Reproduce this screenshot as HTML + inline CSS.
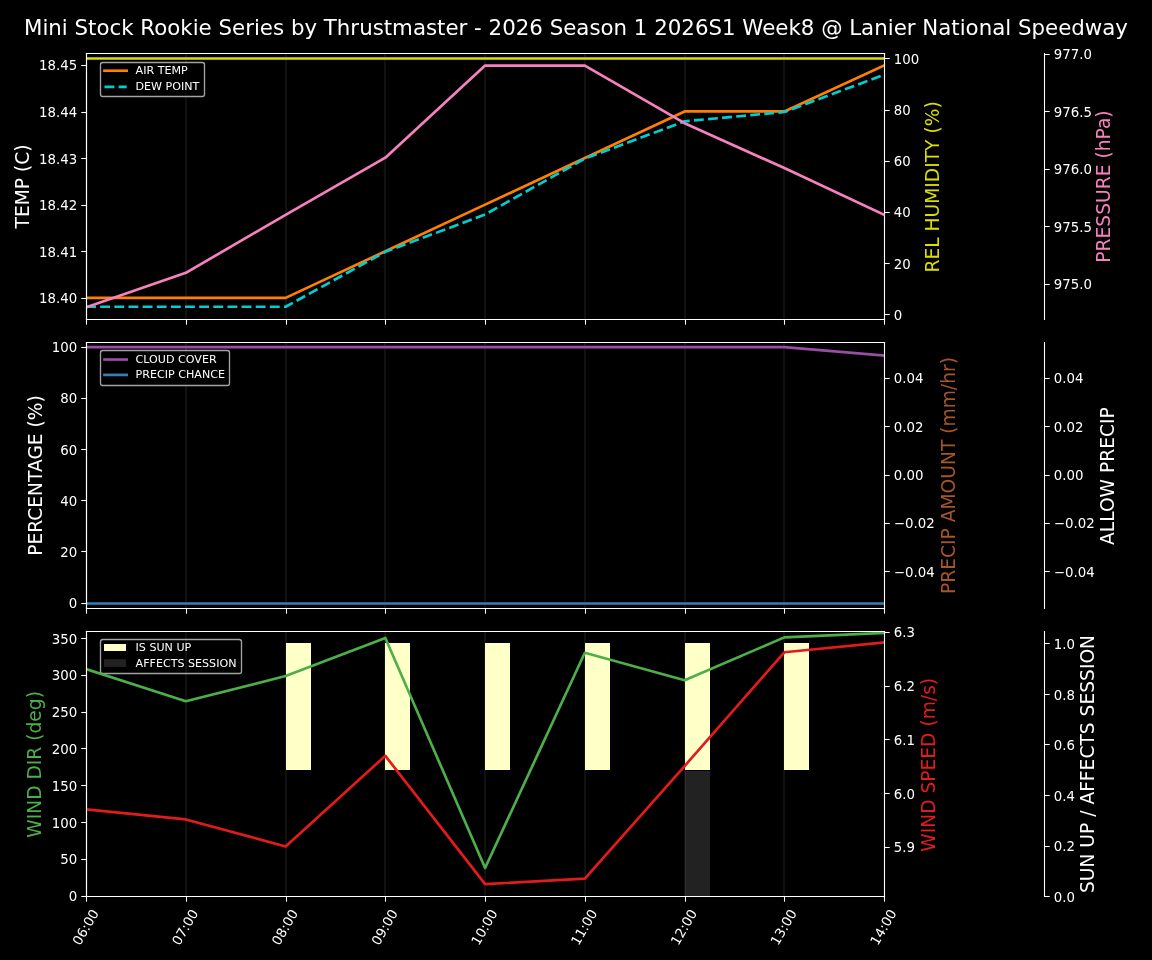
<!DOCTYPE html>
<html><head><meta charset="utf-8"><title>Weather</title>
<style>html,body{margin:0;padding:0;background:#000;width:1152px;height:960px;overflow:hidden}svg{display:block;will-change:transform}</style>
</head><body>
<svg width="1152" height="960" viewBox="0 0 864 720" version="1.1">
 
 <defs>
  <style type="text/css">*{stroke-linejoin: round; stroke-linecap: butt}</style>
 </defs>
 <g id="figure_1">
  <g id="patch_1">
   <path d="M 0 720 
L 864 720 
L 864 0 
L 0 0 
z
"/>
  </g>
  <g id="axes_1">
   <g id="patch_2">
    <path d="M 64.875 239.625 
L 663.375 239.625 
L 663.375 40.125 
L 64.875 40.125 
z
"/>
   </g>
   <g id="line2d_1">
    <path d="M 139.5 239.625 
L 139.5 40.125 
" clip-path="url(#p0e8cb03d9c)" style="fill: none; stroke: #ffffff; stroke-opacity: 0.089; stroke-width: 1.125; stroke-linecap: square"/>
   </g>
   <g id="line2d_2">
    <path d="M 214.5 239.625 
L 214.5 40.125 
" clip-path="url(#p0e8cb03d9c)" style="fill: none; stroke: #ffffff; stroke-opacity: 0.089; stroke-width: 1.125; stroke-linecap: square"/>
   </g>
   <g id="line2d_3">
    <path d="M 288.75 239.625 
L 288.75 40.125 
" clip-path="url(#p0e8cb03d9c)" style="fill: none; stroke: #ffffff; stroke-opacity: 0.089; stroke-width: 1.125; stroke-linecap: square"/>
   </g>
   <g id="line2d_4">
    <path d="M 363.75 239.625 
L 363.75 40.125 
" clip-path="url(#p0e8cb03d9c)" style="fill: none; stroke: #ffffff; stroke-opacity: 0.089; stroke-width: 1.125; stroke-linecap: square"/>
   </g>
   <g id="line2d_5">
    <path d="M 438.75 239.625 
L 438.75 40.125 
" clip-path="url(#p0e8cb03d9c)" style="fill: none; stroke: #ffffff; stroke-opacity: 0.089; stroke-width: 1.125; stroke-linecap: square"/>
   </g>
   <g id="line2d_6">
    <path d="M 513.75 239.625 
L 513.75 40.125 
" clip-path="url(#p0e8cb03d9c)" style="fill: none; stroke: #ffffff; stroke-opacity: 0.089; stroke-width: 1.125; stroke-linecap: square"/>
   </g>
   <g id="line2d_7">
    <path d="M 588 239.625 
L 588 40.125 
" clip-path="url(#p0e8cb03d9c)" style="fill: none; stroke: #ffffff; stroke-opacity: 0.089; stroke-width: 1.125; stroke-linecap: square"/>
   </g>
   <g id="matplotlib.axis_1">
    <g id="xtick_1">
     <g id="line2d_8">
      <defs>
       <path id="m2a5df0ebce" d="M 0 0 
L 0 3.9 
" style="stroke: #ffffff; stroke-width: 0.8"/>
      </defs>
      <g>
       <use href="#m2a5df0ebce" x="64.875" y="239.625" style="fill: #ffffff; stroke: #ffffff; stroke-width: 0.8"/>
      </g>
     </g>
    </g>
    <g id="xtick_2">
     <g id="line2d_9">
      <g>
       <use href="#m2a5df0ebce" x="139.8750" y="239.625" style="fill: #ffffff; stroke: #ffffff; stroke-width: 0.8"/>
      </g>
     </g>
    </g>
    <g id="xtick_3">
     <g id="line2d_10">
      <g>
       <use href="#m2a5df0ebce" x="214.8750" y="239.625" style="fill: #ffffff; stroke: #ffffff; stroke-width: 0.8"/>
      </g>
     </g>
    </g>
    <g id="xtick_4">
     <g id="line2d_11">
      <g>
       <use href="#m2a5df0ebce" x="289.1250" y="239.625" style="fill: #ffffff; stroke: #ffffff; stroke-width: 0.8"/>
      </g>
     </g>
    </g>
    <g id="xtick_5">
     <g id="line2d_12">
      <g>
       <use href="#m2a5df0ebce" x="364.1250" y="239.625" style="fill: #ffffff; stroke: #ffffff; stroke-width: 0.8"/>
      </g>
     </g>
    </g>
    <g id="xtick_6">
     <g id="line2d_13">
      <g>
       <use href="#m2a5df0ebce" x="439.1250" y="239.625" style="fill: #ffffff; stroke: #ffffff; stroke-width: 0.8"/>
      </g>
     </g>
    </g>
    <g id="xtick_7">
     <g id="line2d_14">
      <g>
       <use href="#m2a5df0ebce" x="514.1250" y="239.625" style="fill: #ffffff; stroke: #ffffff; stroke-width: 0.8"/>
      </g>
     </g>
    </g>
    <g id="xtick_8">
     <g id="line2d_15">
      <g>
       <use href="#m2a5df0ebce" x="588.3750" y="239.625" style="fill: #ffffff; stroke: #ffffff; stroke-width: 0.8"/>
      </g>
     </g>
    </g>
    <g id="xtick_9">
     <g id="line2d_16">
      <g>
       <use href="#m2a5df0ebce" x="663.3750" y="239.625" style="fill: #ffffff; stroke: #ffffff; stroke-width: 0.8"/>
      </g>
     </g>
    </g>
   </g>
   <g id="matplotlib.axis_2">
    <g id="ytick_1">
     <g id="line2d_17">
      <defs>
       <path id="md2fccc285f" d="M 0 0 
L -3.9 0 
" style="stroke: #ffffff; stroke-width: 0.8"/>
      </defs>
      <g>
       <use href="#md2fccc285f" x="64.875" y="223.8750" style="fill: #ffffff; stroke: #ffffff; stroke-width: 0.8"/>
      </g>
     </g>
     <g id="text_1">
      <text style="font-size: 10px; font-family: 'DejaVu Sans', sans-serif; text-anchor: end; fill: #ffffff" x="57.875" y="227.600449" transform="rotate(-0 57.875 227.600449)">18.40</text>
     </g>
    </g>
    <g id="ytick_2">
     <g id="line2d_18">
      <g>
       <use href="#md2fccc285f" x="64.875" y="188.6250" style="fill: #ffffff; stroke: #ffffff; stroke-width: 0.8"/>
      </g>
     </g>
     <g id="text_2">
      <text style="font-size: 10px; font-family: 'DejaVu Sans', sans-serif; text-anchor: end; fill: #ffffff" x="57.875" y="192.650449" transform="rotate(-0 57.875 192.650449)">18.41</text>
     </g>
    </g>
    <g id="ytick_3">
     <g id="line2d_19">
      <g>
       <use href="#md2fccc285f" x="64.875" y="154.1250" style="fill: #ffffff; stroke: #ffffff; stroke-width: 0.8"/>
      </g>
     </g>
     <g id="text_3">
      <text style="font-size: 10px; font-family: 'DejaVu Sans', sans-serif; text-anchor: end; fill: #ffffff" x="57.875" y="157.700449" transform="rotate(-0 57.875 157.700449)">18.42</text>
     </g>
    </g>
    <g id="ytick_4">
     <g id="line2d_20">
      <g>
       <use href="#md2fccc285f" x="64.875" y="118.8750" style="fill: #ffffff; stroke: #ffffff; stroke-width: 0.8"/>
      </g>
     </g>
     <g id="text_4">
      <text style="font-size: 10px; font-family: 'DejaVu Sans', sans-serif; text-anchor: end; fill: #ffffff" x="57.875" y="122.750449" transform="rotate(-0 57.875 122.750449)">18.43</text>
     </g>
    </g>
    <g id="ytick_5">
     <g id="line2d_21">
      <g>
       <use href="#md2fccc285f" x="64.875" y="84.3750" style="fill: #ffffff; stroke: #ffffff; stroke-width: 0.8"/>
      </g>
     </g>
     <g id="text_5">
      <text style="font-size: 10px; font-family: 'DejaVu Sans', sans-serif; text-anchor: end; fill: #ffffff" x="57.875" y="87.800449" transform="rotate(-0 57.875 87.800449)">18.44</text>
     </g>
    </g>
    <g id="ytick_6">
     <g id="line2d_22">
      <g>
       <use href="#md2fccc285f" x="64.875" y="49.1250" style="fill: #ffffff; stroke: #ffffff; stroke-width: 0.8"/>
      </g>
     </g>
     <g id="text_6">
      <text style="font-size: 10px; font-family: 'DejaVu Sans', sans-serif; text-anchor: end; fill: #ffffff" x="57.875" y="52.850449" transform="rotate(-0 57.875 52.850449)">18.45</text>
     </g>
    </g>
    <g id="yl_temp" transform="translate(-0.750 0.000)">
     <text style="font-size: 14px; font-family: 'DejaVu Sans', sans-serif; text-anchor: middle; fill: #ffffff" x="22.335313" y="139.875" transform="rotate(-90 22.335313 139.875)">TEMP (C)</text>
    </g>
   </g>
   <g id="line2d_23">
    <path d="M 64.575 223.38183 
L 139.3875 223.38183 
L 214.2 223.38183 
L 289.0125 188.43183 
L 363.825 153.48183 
L 438.6375 118.53183 
L 513.45 83.58183 
L 588.2625 83.58183 
L 663.075 49.05123 
" clip-path="url(#p0e8cb03d9c)" style="fill: none; stroke: #ff7f00; stroke-width: 2; stroke-linecap: square"/>
   </g>
   <g id="line2d_24">
    <path d="M 64.575 230.09223 
L 139.3875 230.09223 
L 214.2 230.09223 
L 289.0125 188.85123 
L 363.825 160.89123 
L 438.6375 118.95123 
L 513.45 90.99123 
L 588.2625 84.00123 
L 663.075 56.04123 
" clip-path="url(#p0e8cb03d9c)" style="fill: none; stroke-dasharray: 7.4,3.2; stroke-dashoffset: 0; stroke: #00ced1; stroke-width: 2"/>
   </g>
   <g id="patch_3">
    <path d="M 64.875 239.625 
L 64.875 40.125 
" style="fill: none; stroke: #ffffff; stroke-width: 0.8; stroke-linejoin: miter; stroke-linecap: square"/>
   </g>
   <g id="patch_4">
    <path d="M 663.375 239.625 
L 663.375 40.125 
" style="fill: none; stroke: #ffffff; stroke-width: 0.8; stroke-linejoin: miter; stroke-linecap: square"/>
   </g>
   <g id="patch_5">
    <path d="M 64.875 239.625 
L 663.375 239.625 
" style="fill: none; stroke: #ffffff; stroke-width: 0.8; stroke-linejoin: miter; stroke-linecap: square"/>
   </g>
   <g id="patch_6">
    <path d="M 64.875 40.125 
L 663.375 40.125 
" style="fill: none; stroke: #ffffff; stroke-width: 0.8; stroke-linejoin: miter; stroke-linecap: square"/>
   </g>
   <g id="legend_1">
    <g id="lframe1">
     <path d="M 77.040 46.875 L 151.710 46.875 Q 153.375 46.875 153.375 48.540 L 153.375 70.710 Q 153.375 72.375 151.710 72.375 L 77.040 72.375 Q 75.375 72.375 75.375 70.710 L 75.375 48.540 Q 75.375 46.875 77.040 46.875 z" style="opacity: 0.8; stroke: #cccccc; stroke-linejoin: miter"/>
    </g>
    <g id="lhand1_0" transform="translate(0 0.000)">
     <path d="M 78.357 53.030998 
L 86.687 53.030998 
L 95.017 53.030998 
" style="fill: none; stroke: #ff7f00; stroke-width: 2; stroke-linecap: square"/>
    </g>
    <g id="ltext1_0" transform="translate(0 -0.712)">
     <text style="font-size: 8.33px; font-family: 'DejaVu Sans', sans-serif; text-anchor: start; fill: #ffffff" x="101.681" y="55.946498" transform="rotate(-0 101.681 55.946498)">AIR TEMP</text>
    </g>
    <g id="lhand1_1" transform="translate(0 -0.075)">
     <path d="M 78.357 65.257877 
L 86.687 65.257877 
L 95.017 65.257877 
" style="fill: none; stroke-dasharray: 7.4,3.2; stroke-dashoffset: 0; stroke: #00ced1; stroke-width: 2"/>
    </g>
    <g id="ltext1_1" transform="translate(0 -0.675)">
     <text style="font-size: 8.33px; font-family: 'DejaVu Sans', sans-serif; text-anchor: start; fill: #ffffff" x="101.681" y="68.173377" transform="rotate(-0 101.681 68.173377)">DEW POINT</text>
    </g>
   </g>
  </g>
  <g id="axes_2">
   <g id="matplotlib.axis_3">
    <g id="ytick_7">
     <g id="line2d_25">
      <defs>
       <path id="m85a99a6e5a" d="M 0 0 
L 3.9 0 
" style="stroke: #ffffff; stroke-width: 0.8"/>
      </defs>
      <g>
       <use href="#m85a99a6e5a" x="663.375" y="235.8750" style="fill: #ffffff; stroke: #ffffff; stroke-width: 0.8"/>
      </g>
     </g>
     <g id="text_7">
      <text style="font-size: 10px; font-family: 'DejaVu Sans', sans-serif; text-anchor: start; fill: #ffffff" x="670.375" y="239.800608" transform="rotate(-0 670.375 239.800608)">0</text>
     </g>
    </g>
    <g id="ytick_8">
     <g id="line2d_26">
      <g>
       <use href="#m85a99a6e5a" x="663.375" y="197.6250" style="fill: #ffffff; stroke: #ffffff; stroke-width: 0.8"/>
      </g>
     </g>
     <g id="text_8">
      <text style="font-size: 10px; font-family: 'DejaVu Sans', sans-serif; text-anchor: start; fill: #ffffff" x="670.375" y="201.435224" transform="rotate(-0 670.375 201.435224)">20</text>
     </g>
    </g>
    <g id="ytick_9">
     <g id="line2d_27">
      <g>
       <use href="#m85a99a6e5a" x="663.375" y="159.3750" style="fill: #ffffff; stroke: #ffffff; stroke-width: 0.8"/>
      </g>
     </g>
     <g id="text_9">
      <text style="font-size: 10px; font-family: 'DejaVu Sans', sans-serif; text-anchor: start; fill: #ffffff" x="670.375" y="163.069839" transform="rotate(-0 670.375 163.069839)">40</text>
     </g>
    </g>
    <g id="ytick_10">
     <g id="line2d_28">
      <g>
       <use href="#m85a99a6e5a" x="663.375" y="121.1250" style="fill: #ffffff; stroke: #ffffff; stroke-width: 0.8"/>
      </g>
     </g>
     <g id="text_10">
      <text style="font-size: 10px; font-family: 'DejaVu Sans', sans-serif; text-anchor: start; fill: #ffffff" x="670.375" y="124.704454" transform="rotate(-0 670.375 124.704454)">60</text>
     </g>
    </g>
    <g id="ytick_11">
     <g id="line2d_29">
      <g>
       <use href="#m85a99a6e5a" x="663.375" y="82.8750" style="fill: #ffffff; stroke: #ffffff; stroke-width: 0.8"/>
      </g>
     </g>
     <g id="text_11">
      <text style="font-size: 10px; font-family: 'DejaVu Sans', sans-serif; text-anchor: start; fill: #ffffff" x="670.375" y="86.33907" transform="rotate(-0 670.375 86.33907)">80</text>
     </g>
    </g>
    <g id="ytick_12">
     <g id="line2d_30">
      <g>
       <use href="#m85a99a6e5a" x="663.375" y="43.8750" style="fill: #ffffff; stroke: #ffffff; stroke-width: 0.8"/>
      </g>
     </g>
     <g id="text_12">
      <text style="font-size: 10px; font-family: 'DejaVu Sans', sans-serif; text-anchor: start; fill: #ffffff" x="670.375" y="47.973685" transform="rotate(-0 670.375 47.973685)">100</text>
     </g>
    </g>
    <g id="yl_hum" transform="translate(0.000 0.300)">
     <text style="font-size: 14px; font-family: 'DejaVu Sans', sans-serif; text-anchor: middle; fill: #dddd00" x="704.100312" y="139.875" transform="rotate(-90 704.100312 139.875)">REL HUMIDITY (%)</text>
    </g>
   </g>
   <g id="line2d_31">
    <path d="M 64.575 43.875216 
L 139.3875 43.875216 
L 214.2 43.875216 
L 289.0125 43.875216 
L 363.825 43.875216 
L 438.6375 43.875216 
L 513.45 43.875216 
L 588.2625 43.875216 
L 663.075 43.875216 
" clip-path="url(#p9b75be4fc3)" style="fill: none; stroke: #dddd00; stroke-width: 2; stroke-linecap: square"/>
   </g>
   <g id="patch_7">
    <path d="M 64.875 239.625 
L 64.875 40.125 
" style="fill: none; stroke: #ffffff; stroke-width: 0.8; stroke-linejoin: miter; stroke-linecap: square"/>
   </g>
   <g id="patch_8">
    <path d="M 663.375 239.625 
L 663.375 40.125 
" style="fill: none; stroke: #ffffff; stroke-width: 0.8; stroke-linejoin: miter; stroke-linecap: square"/>
   </g>
   <g id="patch_9">
    <path d="M 64.875 239.625 
L 663.375 239.625 
" style="fill: none; stroke: #ffffff; stroke-width: 0.8; stroke-linejoin: miter; stroke-linecap: square"/>
   </g>
   <g id="patch_10">
    <path d="M 64.875 40.125 
L 663.375 40.125 
" style="fill: none; stroke: #ffffff; stroke-width: 0.8; stroke-linejoin: miter; stroke-linecap: square"/>
   </g>
  </g>
  <g id="axes_3">
   <g id="matplotlib.axis_4">
    <g id="ytick_13">
     <g id="line2d_32">
      <g>
       <use href="#m85a99a6e5a" x="783.375" y="213.3750" style="fill: #ffffff; stroke: #ffffff; stroke-width: 0.8"/>
      </g>
     </g>
     <g id="text_13">
      <text style="font-size: 10px; font-family: 'DejaVu Sans', sans-serif; text-anchor: start; fill: #ffffff" x="790.375" y="217.08331" transform="rotate(-0 790.375 217.08331)">975.0</text>
     </g>
    </g>
    <g id="ytick_14">
     <g id="line2d_33">
      <g>
       <use href="#m85a99a6e5a" x="783.375" y="169.8750" style="fill: #ffffff; stroke: #ffffff; stroke-width: 0.8"/>
      </g>
     </g>
     <g id="text_14">
      <text style="font-size: 10px; font-family: 'DejaVu Sans', sans-serif; text-anchor: start; fill: #ffffff" x="790.375" y="173.901491" transform="rotate(-0 790.375 173.901491)">975.5</text>
     </g>
    </g>
    <g id="ytick_15">
     <g id="line2d_34">
      <g>
       <use href="#m85a99a6e5a" x="783.375" y="127.1250" style="fill: #ffffff; stroke: #ffffff; stroke-width: 0.8"/>
      </g>
     </g>
     <g id="text_15">
      <text style="font-size: 10px; font-family: 'DejaVu Sans', sans-serif; text-anchor: start; fill: #ffffff" x="790.375" y="130.719673" transform="rotate(-0 790.375 130.719673)">976.0</text>
     </g>
    </g>
    <g id="ytick_16">
     <g id="line2d_35">
      <g>
       <use href="#m85a99a6e5a" x="783.375" y="83.6250" style="fill: #ffffff; stroke: #ffffff; stroke-width: 0.8"/>
      </g>
     </g>
     <g id="text_16">
      <text style="font-size: 10px; font-family: 'DejaVu Sans', sans-serif; text-anchor: start; fill: #ffffff" x="790.375" y="87.537855" transform="rotate(-0 790.375 87.537855)">976.5</text>
     </g>
    </g>
    <g id="ytick_17">
     <g id="line2d_36">
      <g>
       <use href="#m85a99a6e5a" x="783.375" y="40.8750" style="fill: #ffffff; stroke: #ffffff; stroke-width: 0.8"/>
      </g>
     </g>
     <g id="text_17">
      <text style="font-size: 10px; font-family: 'DejaVu Sans', sans-serif; text-anchor: start; fill: #ffffff" x="790.375" y="44.356037" transform="rotate(-0 790.375 44.356037)">977.0</text>
     </g>
    </g>
    <g id="yl_pres" transform="translate(-0.825 0.000)">
     <text style="font-size: 14px; font-family: 'DejaVu Sans', sans-serif; text-anchor: middle; fill: #f781bf" x="833.640937" y="139.875" transform="rotate(-90 833.640937 139.875)">PRESSURE (hPa)</text>
    </g>
   </g>
   <g id="line2d_37">
    <path d="M 64.575 230.556818 
L 139.3875 204.647727 
L 214.2 161.120455 
L 289.0125 118.284091 
L 363.825 49.193182 
L 438.6375 49.193182 
L 513.45 92.375 
L 588.2625 126.056818 
L 663.075 161.034091 
" clip-path="url(#p9b75be4fc3)" style="fill: none; stroke: #f781bf; stroke-width: 2; stroke-linecap: square"/>
   </g>
   <g id="patch_11">
    <path d="M 64.875 239.625 
L 64.875 40.125 
" style="fill: none; stroke: #ffffff; stroke-width: 0.8; stroke-linejoin: miter; stroke-linecap: square"/>
   </g>
   <g id="patch_12">
    <path d="M 783.375 239.625 
L 783.375 40.125 
" style="fill: none; stroke: #ffffff; stroke-width: 0.8; stroke-linejoin: miter; stroke-linecap: square"/>
   </g>
   <g id="patch_13">
    <path d="M 64.875 239.625 
L 663.375 239.625 
" style="fill: none; stroke: #ffffff; stroke-width: 0.8; stroke-linejoin: miter; stroke-linecap: square"/>
   </g>
   <g id="patch_14">
    <path d="M 64.875 40.125 
L 663.375 40.125 
" style="fill: none; stroke: #ffffff; stroke-width: 0.8; stroke-linejoin: miter; stroke-linecap: square"/>
   </g>
  </g>
  <g id="axes_4">
   <g id="patch_15">
    <path d="M 64.875 456.375 
L 663.375 456.375 
L 663.375 256.875 
L 64.875 256.875 
z
"/>
   </g>
   <g id="line2d_38">
    <path d="M 139.5 456.375 
L 139.5 256.875 
" clip-path="url(#p6744f68120)" style="fill: none; stroke: #ffffff; stroke-opacity: 0.089; stroke-width: 1.125; stroke-linecap: square"/>
   </g>
   <g id="line2d_39">
    <path d="M 214.5 456.375 
L 214.5 256.875 
" clip-path="url(#p6744f68120)" style="fill: none; stroke: #ffffff; stroke-opacity: 0.089; stroke-width: 1.125; stroke-linecap: square"/>
   </g>
   <g id="line2d_40">
    <path d="M 288.75 456.375 
L 288.75 256.875 
" clip-path="url(#p6744f68120)" style="fill: none; stroke: #ffffff; stroke-opacity: 0.089; stroke-width: 1.125; stroke-linecap: square"/>
   </g>
   <g id="line2d_41">
    <path d="M 363.75 456.375 
L 363.75 256.875 
" clip-path="url(#p6744f68120)" style="fill: none; stroke: #ffffff; stroke-opacity: 0.089; stroke-width: 1.125; stroke-linecap: square"/>
   </g>
   <g id="line2d_42">
    <path d="M 438.75 456.375 
L 438.75 256.875 
" clip-path="url(#p6744f68120)" style="fill: none; stroke: #ffffff; stroke-opacity: 0.089; stroke-width: 1.125; stroke-linecap: square"/>
   </g>
   <g id="line2d_43">
    <path d="M 513.75 456.375 
L 513.75 256.875 
" clip-path="url(#p6744f68120)" style="fill: none; stroke: #ffffff; stroke-opacity: 0.089; stroke-width: 1.125; stroke-linecap: square"/>
   </g>
   <g id="line2d_44">
    <path d="M 588 456.375 
L 588 256.875 
" clip-path="url(#p6744f68120)" style="fill: none; stroke: #ffffff; stroke-opacity: 0.089; stroke-width: 1.125; stroke-linecap: square"/>
   </g>
   <g id="matplotlib.axis_5">
    <g id="xtick_10">
     <g id="line2d_45">
      <g>
       <use href="#m2a5df0ebce" x="64.875" y="456.375" style="fill: #ffffff; stroke: #ffffff; stroke-width: 0.8"/>
      </g>
     </g>
    </g>
    <g id="xtick_11">
     <g id="line2d_46">
      <g>
       <use href="#m2a5df0ebce" x="139.8750" y="456.375" style="fill: #ffffff; stroke: #ffffff; stroke-width: 0.8"/>
      </g>
     </g>
    </g>
    <g id="xtick_12">
     <g id="line2d_47">
      <g>
       <use href="#m2a5df0ebce" x="214.8750" y="456.375" style="fill: #ffffff; stroke: #ffffff; stroke-width: 0.8"/>
      </g>
     </g>
    </g>
    <g id="xtick_13">
     <g id="line2d_48">
      <g>
       <use href="#m2a5df0ebce" x="289.1250" y="456.375" style="fill: #ffffff; stroke: #ffffff; stroke-width: 0.8"/>
      </g>
     </g>
    </g>
    <g id="xtick_14">
     <g id="line2d_49">
      <g>
       <use href="#m2a5df0ebce" x="364.1250" y="456.375" style="fill: #ffffff; stroke: #ffffff; stroke-width: 0.8"/>
      </g>
     </g>
    </g>
    <g id="xtick_15">
     <g id="line2d_50">
      <g>
       <use href="#m2a5df0ebce" x="439.1250" y="456.375" style="fill: #ffffff; stroke: #ffffff; stroke-width: 0.8"/>
      </g>
     </g>
    </g>
    <g id="xtick_16">
     <g id="line2d_51">
      <g>
       <use href="#m2a5df0ebce" x="514.1250" y="456.375" style="fill: #ffffff; stroke: #ffffff; stroke-width: 0.8"/>
      </g>
     </g>
    </g>
    <g id="xtick_17">
     <g id="line2d_52">
      <g>
       <use href="#m2a5df0ebce" x="588.3750" y="456.375" style="fill: #ffffff; stroke: #ffffff; stroke-width: 0.8"/>
      </g>
     </g>
    </g>
    <g id="xtick_18">
     <g id="line2d_53">
      <g>
       <use href="#m2a5df0ebce" x="663.3750" y="456.375" style="fill: #ffffff; stroke: #ffffff; stroke-width: 0.8"/>
      </g>
     </g>
    </g>
   </g>
   <g id="matplotlib.axis_6">
    <g id="ytick_18">
     <g id="line2d_54">
      <g>
       <use href="#md2fccc285f" x="64.875" y="452.6250" style="fill: #ffffff; stroke: #ffffff; stroke-width: 0.8"/>
      </g>
     </g>
     <g id="text_18">
      <text style="font-size: 10px; font-family: 'DejaVu Sans', sans-serif; text-anchor: end; fill: #ffffff" x="57.875" y="456.124929" transform="rotate(-0 57.875 456.124929)">0</text>
     </g>
    </g>
    <g id="ytick_19">
     <g id="line2d_55">
      <g>
       <use href="#md2fccc285f" x="64.875" y="413.6250" style="fill: #ffffff; stroke: #ffffff; stroke-width: 0.8"/>
      </g>
     </g>
     <g id="text_19">
      <text style="font-size: 10px; font-family: 'DejaVu Sans', sans-serif; text-anchor: end; fill: #ffffff" x="57.875" y="417.724837" transform="rotate(-0 57.875 417.724837)">20</text>
     </g>
    </g>
    <g id="ytick_20">
     <g id="line2d_56">
      <g>
       <use href="#md2fccc285f" x="64.875" y="375.3750" style="fill: #ffffff; stroke: #ffffff; stroke-width: 0.8"/>
      </g>
     </g>
     <g id="text_20">
      <text style="font-size: 10px; font-family: 'DejaVu Sans', sans-serif; text-anchor: end; fill: #ffffff" x="57.875" y="379.324744" transform="rotate(-0 57.875 379.324744)">40</text>
     </g>
    </g>
    <g id="ytick_21">
     <g id="line2d_57">
      <g>
       <use href="#md2fccc285f" x="64.875" y="337.1250" style="fill: #ffffff; stroke: #ffffff; stroke-width: 0.8"/>
      </g>
     </g>
     <g id="text_21">
      <text style="font-size: 10px; font-family: 'DejaVu Sans', sans-serif; text-anchor: end; fill: #ffffff" x="57.875" y="340.924652" transform="rotate(-0 57.875 340.924652)">60</text>
     </g>
    </g>
    <g id="ytick_22">
     <g id="line2d_58">
      <g>
       <use href="#md2fccc285f" x="64.875" y="298.8750" style="fill: #ffffff; stroke: #ffffff; stroke-width: 0.8"/>
      </g>
     </g>
     <g id="text_22">
      <text style="font-size: 10px; font-family: 'DejaVu Sans', sans-serif; text-anchor: end; fill: #ffffff" x="57.875" y="302.524559" transform="rotate(-0 57.875 302.524559)">80</text>
     </g>
    </g>
    <g id="ytick_23">
     <g id="line2d_59">
      <g>
       <use href="#md2fccc285f" x="64.875" y="260.6250" style="fill: #ffffff; stroke: #ffffff; stroke-width: 0.8"/>
      </g>
     </g>
     <g id="text_23">
      <text style="font-size: 10px; font-family: 'DejaVu Sans', sans-serif; text-anchor: end; fill: #ffffff" x="57.875" y="264.124467" transform="rotate(-0 57.875 264.124467)">100</text>
     </g>
    </g>
    <g id="yl_perc" transform="translate(-0.712 0.000)">
     <text style="font-size: 14px; font-family: 'DejaVu Sans', sans-serif; text-anchor: middle; fill: #ffffff" x="31.875937" y="356.625" transform="rotate(-90 31.875937 356.625)">PERCENTAGE (%)</text>
    </g>
   </g>
   <g id="line2d_60">
    <path d="M 64.575 260.325248 
L 139.3875 260.325248 
L 214.2 260.325248 
L 289.0125 260.325248 
L 363.825 260.325248 
L 438.6375 260.325248 
L 513.45 260.325248 
L 588.2625 260.325248 
L 663.075 266.661264 
" clip-path="url(#p6744f68120)" style="fill: none; stroke: #984ea3; stroke-width: 2; stroke-linecap: square"/>
   </g>
   <g id="line2d_61">
    <path d="M 64.575 452.625231 
L 139.3875 452.625231 
L 214.2 452.625231 
L 289.0125 452.625231 
L 363.825 452.625231 
L 438.6375 452.625231 
L 513.45 452.625231 
L 588.2625 452.625231 
L 663.075 452.625231 
" clip-path="url(#p6744f68120)" style="fill: none; stroke: #377eb8; stroke-width: 2; stroke-linecap: square"/>
   </g>
   <g id="patch_16">
    <path d="M 64.875 456.375 
L 64.875 256.875 
" style="fill: none; stroke: #ffffff; stroke-width: 0.8; stroke-linejoin: miter; stroke-linecap: square"/>
   </g>
   <g id="patch_17">
    <path d="M 663.375 456.375 
L 663.375 256.875 
" style="fill: none; stroke: #ffffff; stroke-width: 0.8; stroke-linejoin: miter; stroke-linecap: square"/>
   </g>
   <g id="patch_18">
    <path d="M 64.875 456.375 
L 663.375 456.375 
" style="fill: none; stroke: #ffffff; stroke-width: 0.8; stroke-linejoin: miter; stroke-linecap: square"/>
   </g>
   <g id="patch_19">
    <path d="M 64.875 256.875 
L 663.375 256.875 
" style="fill: none; stroke: #ffffff; stroke-width: 0.8; stroke-linejoin: miter; stroke-linecap: square"/>
   </g>
   <g id="legend_2">
    <g id="lframe2">
     <path d="M 77.040 262.875 L 170.460 262.875 Q 172.125 262.875 172.125 264.540 L 172.125 287.460 Q 172.125 289.125 170.460 289.125 L 77.040 289.125 Q 75.375 289.125 75.375 287.460 L 75.375 264.540 Q 75.375 262.875 77.040 262.875 z" style="opacity: 0.8; stroke: #cccccc; stroke-linejoin: miter"/>
    </g>
    <g id="lhand2_0" transform="translate(0 -0.150)">
     <path d="M 78.357 269.780998 
L 86.687 269.780998 
L 95.017 269.780998 
" style="fill: none; stroke: #984ea3; stroke-width: 2; stroke-linecap: square"/>
    </g>
    <g id="ltext2_0" transform="translate(0 -0.675)">
     <text style="font-size: 8.33px; font-family: 'DejaVu Sans', sans-serif; text-anchor: start; fill: #ffffff" x="101.681" y="272.696498" transform="rotate(-0 101.681 272.696498)">CLOUD COVER</text>
    </g>
    <g id="lhand2_1" transform="translate(0 -0.825)">
     <path d="M 78.357 282.007877 
L 86.687 282.007877 
L 95.017 282.007877 
" style="fill: none; stroke: #377eb8; stroke-width: 2; stroke-linecap: square"/>
    </g>
    <g id="ltext2_1" transform="translate(0 -1.350)">
     <text style="font-size: 8.33px; font-family: 'DejaVu Sans', sans-serif; text-anchor: start; fill: #ffffff" x="101.681" y="284.923377" transform="rotate(-0 101.681 284.923377)">PRECIP CHANCE</text>
    </g>
   </g>
  </g>
  <g id="axes_5">
   <g id="matplotlib.axis_7">
    <g id="ytick_24">
     <g id="line2d_62">
      <g>
       <use href="#m85a99a6e5a" x="663.375" y="428.6250" style="fill: #ffffff; stroke: #ffffff; stroke-width: 0.8"/>
      </g>
     </g>
     <g id="text_24">
      <text style="font-size: 10px; font-family: 'DejaVu Sans', sans-serif; text-anchor: start; fill: #ffffff" x="670.375" y="432.632337" transform="rotate(-0 670.375 432.632337)">−0.04</text>
     </g>
    </g>
    <g id="ytick_25">
     <g id="line2d_63">
      <g>
       <use href="#m85a99a6e5a" x="663.375" y="392.6250" style="fill: #ffffff; stroke: #ffffff; stroke-width: 0.8"/>
      </g>
     </g>
     <g id="text_25">
      <text style="font-size: 10px; font-family: 'DejaVu Sans', sans-serif; text-anchor: start; fill: #ffffff" x="670.375" y="396.35961" transform="rotate(-0 670.375 396.35961)">−0.02</text>
     </g>
    </g>
    <g id="ytick_26">
     <g id="line2d_64">
      <g>
       <use href="#m85a99a6e5a" x="663.375" y="356.6250" style="fill: #ffffff; stroke: #ffffff; stroke-width: 0.8"/>
      </g>
     </g>
     <g id="text_26">
      <text style="font-size: 10px; font-family: 'DejaVu Sans', sans-serif; text-anchor: start; fill: #ffffff" x="670.375" y="360.086882" transform="rotate(-0 670.375 360.086882)">0.00</text>
     </g>
    </g>
    <g id="ytick_27">
     <g id="line2d_65">
      <g>
       <use href="#m85a99a6e5a" x="663.375" y="319.8750" style="fill: #ffffff; stroke: #ffffff; stroke-width: 0.8"/>
      </g>
     </g>
     <g id="text_27">
      <text style="font-size: 10px; font-family: 'DejaVu Sans', sans-serif; text-anchor: start; fill: #ffffff" x="670.375" y="323.814155" transform="rotate(-0 670.375 323.814155)">0.02</text>
     </g>
    </g>
    <g id="ytick_28">
     <g id="line2d_66">
      <g>
       <use href="#m85a99a6e5a" x="663.375" y="283.8750" style="fill: #ffffff; stroke: #ffffff; stroke-width: 0.8"/>
      </g>
     </g>
     <g id="text_28">
      <text style="font-size: 10px; font-family: 'DejaVu Sans', sans-serif; text-anchor: start; fill: #ffffff" x="670.375" y="287.541428" transform="rotate(-0 670.375 287.541428)">0.04</text>
     </g>
    </g>
    <g id="yl_pamt" transform="translate(0.712 0.000)">
     <text style="font-size: 14px; font-family: 'DejaVu Sans', sans-serif; text-anchor: middle; fill: #a65628" x="715.658125" y="356.625" transform="rotate(-90 715.658125 356.625)">PRECIP AMOUNT (mm/hr)</text>
    </g>
   </g>
   <g id="line2d_67">
    <path d="M 64.575 356.287664 
L 139.3875 356.287664 
L 214.2 356.287664 
L 289.0125 356.287664 
L 363.825 356.287664 
L 438.6375 356.287664 
L 513.45 356.287664 
L 588.2625 356.287664 
L 663.075 356.287664 
" clip-path="url(#p3d018bc592)" style="fill: none"/>
   </g>
   <g id="patch_20">
    <path d="M 64.875 456.375 
L 64.875 256.875 
" style="fill: none; stroke: #ffffff; stroke-width: 0.8; stroke-linejoin: miter; stroke-linecap: square"/>
   </g>
   <g id="patch_21">
    <path d="M 663.375 456.375 
L 663.375 256.875 
" style="fill: none; stroke: #ffffff; stroke-width: 0.8; stroke-linejoin: miter; stroke-linecap: square"/>
   </g>
   <g id="patch_22">
    <path d="M 64.875 456.375 
L 663.375 456.375 
" style="fill: none; stroke: #ffffff; stroke-width: 0.8; stroke-linejoin: miter; stroke-linecap: square"/>
   </g>
   <g id="patch_23">
    <path d="M 64.875 256.875 
L 663.375 256.875 
" style="fill: none; stroke: #ffffff; stroke-width: 0.8; stroke-linejoin: miter; stroke-linecap: square"/>
   </g>
  </g>
  <g id="axes_6">
   <g id="matplotlib.axis_8">
    <g id="ytick_29">
     <g id="line2d_68">
      <g>
       <use href="#m85a99a6e5a" x="783.375" y="428.6250" style="fill: #ffffff; stroke: #ffffff; stroke-width: 0.8"/>
      </g>
     </g>
     <g id="text_29">
      <text style="font-size: 10px; font-family: 'DejaVu Sans', sans-serif; text-anchor: start; fill: #ffffff" x="790.375" y="432.632337" transform="rotate(-0 790.375 432.632337)">−0.04</text>
     </g>
    </g>
    <g id="ytick_30">
     <g id="line2d_69">
      <g>
       <use href="#m85a99a6e5a" x="783.375" y="392.6250" style="fill: #ffffff; stroke: #ffffff; stroke-width: 0.8"/>
      </g>
     </g>
     <g id="text_30">
      <text style="font-size: 10px; font-family: 'DejaVu Sans', sans-serif; text-anchor: start; fill: #ffffff" x="790.375" y="396.35961" transform="rotate(-0 790.375 396.35961)">−0.02</text>
     </g>
    </g>
    <g id="ytick_31">
     <g id="line2d_70">
      <g>
       <use href="#m85a99a6e5a" x="783.375" y="356.6250" style="fill: #ffffff; stroke: #ffffff; stroke-width: 0.8"/>
      </g>
     </g>
     <g id="text_31">
      <text style="font-size: 10px; font-family: 'DejaVu Sans', sans-serif; text-anchor: start; fill: #ffffff" x="790.375" y="360.086882" transform="rotate(-0 790.375 360.086882)">0.00</text>
     </g>
    </g>
    <g id="ytick_32">
     <g id="line2d_71">
      <g>
       <use href="#m85a99a6e5a" x="783.375" y="319.8750" style="fill: #ffffff; stroke: #ffffff; stroke-width: 0.8"/>
      </g>
     </g>
     <g id="text_32">
      <text style="font-size: 10px; font-family: 'DejaVu Sans', sans-serif; text-anchor: start; fill: #ffffff" x="790.375" y="323.814155" transform="rotate(-0 790.375 323.814155)">0.02</text>
     </g>
    </g>
    <g id="ytick_33">
     <g id="line2d_72">
      <g>
       <use href="#m85a99a6e5a" x="783.375" y="283.8750" style="fill: #ffffff; stroke: #ffffff; stroke-width: 0.8"/>
      </g>
     </g>
     <g id="text_33">
      <text style="font-size: 10px; font-family: 'DejaVu Sans', sans-serif; text-anchor: start; fill: #ffffff" x="790.375" y="287.541428" transform="rotate(-0 790.375 287.541428)">0.04</text>
     </g>
    </g>
    <g id="yl_allow" transform="translate(0.000 0.450)">
     <text style="font-size: 14px; font-family: 'DejaVu Sans', sans-serif; text-anchor: middle; fill: #ffffff" x="835.658125" y="356.625" transform="rotate(-90 835.658125 356.625)">ALLOW PRECIP</text>
    </g>
   </g>
   <g id="line2d_73">
    <path d="M 64.575 356.287664 
L 139.3875 356.287664 
L 214.2 356.287664 
L 289.0125 356.287664 
L 363.825 356.287664 
L 438.6375 356.287664 
L 513.45 356.287664 
L 588.2625 356.287664 
L 663.075 356.287664 
" clip-path="url(#p3d018bc592)" style="fill: none"/>
   </g>
   <g id="patch_24">
    <path d="M 64.875 456.375 
L 64.875 256.875 
" style="fill: none; stroke: #ffffff; stroke-width: 0.8; stroke-linejoin: miter; stroke-linecap: square"/>
   </g>
   <g id="patch_25">
    <path d="M 783.375 456.375 
L 783.375 256.875 
" style="fill: none; stroke: #ffffff; stroke-width: 0.8; stroke-linejoin: miter; stroke-linecap: square"/>
   </g>
   <g id="patch_26">
    <path d="M 64.875 456.375 
L 663.375 456.375 
" style="fill: none; stroke: #ffffff; stroke-width: 0.8; stroke-linejoin: miter; stroke-linecap: square"/>
   </g>
   <g id="patch_27">
    <path d="M 64.875 256.875 
L 663.375 256.875 
" style="fill: none; stroke: #ffffff; stroke-width: 0.8; stroke-linejoin: miter; stroke-linecap: square"/>
   </g>
  </g>
  <g id="axes_7">
   <g id="patch_28">
    <path d="M 64.5 577.499321 
L 83.25 577.499321 
L 83.25 577.499321 
L 64.5 577.499321 
z
" clip-path="url(#p1b7dcd335f)" style="fill: #ffffc8"/>
   </g>
   <g id="patch_29">
    <path d="M 139.5 577.499321 
L 158.25 577.499321 
L 158.25 577.499321 
L 139.5 577.499321 
z
" clip-path="url(#p1b7dcd335f)" style="fill: #ffffc8"/>
   </g>
   <g id="patch_30">
    <path d="M 214.5 577.499321 
L 233.25 577.499321 
L 233.25 482.248857 
L 214.5 482.248857 
z
" clip-path="url(#p1b7dcd335f)" style="fill: #ffffc8"/>
   </g>
   <g id="patch_31">
    <path d="M 288.75 577.499321 
L 307.5 577.499321 
L 307.5 482.248857 
L 288.75 482.248857 
z
" clip-path="url(#p1b7dcd335f)" style="fill: #ffffc8"/>
   </g>
   <g id="patch_32">
    <path d="M 363.75 577.499321 
L 382.5 577.499321 
L 382.5 482.248857 
L 363.75 482.248857 
z
" clip-path="url(#p1b7dcd335f)" style="fill: #ffffc8"/>
   </g>
   <g id="patch_33">
    <path d="M 438.75 577.499321 
L 457.5 577.499321 
L 457.5 482.248857 
L 438.75 482.248857 
z
" clip-path="url(#p1b7dcd335f)" style="fill: #ffffc8"/>
   </g>
   <g id="patch_34">
    <path d="M 513.75 577.499321 
L 532.5 577.499321 
L 532.5 482.248857 
L 513.75 482.248857 
z
" clip-path="url(#p1b7dcd335f)" style="fill: #ffffc8"/>
   </g>
   <g id="patch_35">
    <path d="M 588 577.499321 
L 606.75 577.499321 
L 606.75 482.248857 
L 588 482.248857 
z
" clip-path="url(#p1b7dcd335f)" style="fill: #ffffc8"/>
   </g>
   <g id="patch_36">
    <path d="M 663 577.499321 
L 681.75 577.499321 
L 681.75 482.248857 
L 663 482.248857 
z
" clip-path="url(#p1b7dcd335f)" style="fill: #ffffc8"/>
   </g>
   <g id="patch_37">
    <path d="M 64.5 672.375 
L 83.25 672.375 
L 83.25 672.375 
L 64.5 672.375 
z
" clip-path="url(#p1b7dcd335f)" style="fill: #ffffff; fill-opacity: 0.133"/>
   </g>
   <g id="patch_38">
    <path d="M 139.5 672.375 
L 158.25 672.375 
L 158.25 672.375 
L 139.5 672.375 
z
" clip-path="url(#p1b7dcd335f)" style="fill: #ffffff; fill-opacity: 0.133"/>
   </g>
   <g id="patch_39">
    <path d="M 214.5 672.375 
L 233.25 672.375 
L 233.25 672.375 
L 214.5 672.375 
z
" clip-path="url(#p1b7dcd335f)" style="fill: #ffffff; fill-opacity: 0.133"/>
   </g>
   <g id="patch_40">
    <path d="M 288.75 672.375 
L 307.5 672.375 
L 307.5 672.375 
L 288.75 672.375 
z
" clip-path="url(#p1b7dcd335f)" style="fill: #ffffff; fill-opacity: 0.133"/>
   </g>
   <g id="patch_41">
    <path d="M 363.75 672.375 
L 382.5 672.375 
L 382.5 672.375 
L 363.75 672.375 
z
" clip-path="url(#p1b7dcd335f)" style="fill: #ffffff; fill-opacity: 0.133"/>
   </g>
   <g id="patch_42">
    <path d="M 438.75 672.375 
L 457.5 672.375 
L 457.5 672.375 
L 438.75 672.375 
z
" clip-path="url(#p1b7dcd335f)" style="fill: #ffffff; fill-opacity: 0.133"/>
   </g>
   <g id="patch_43">
    <path d="M 513.75 672.375 
L 532.5 672.375 
L 532.5 578.248893 
L 513.75 578.248893 
z
" clip-path="url(#p1b7dcd335f)" style="fill: #ffffff; fill-opacity: 0.133"/>
   </g>
   <g id="patch_44">
    <path d="M 588 672.375 
L 606.75 672.375 
L 606.75 672.375 
L 588 672.375 
z
" clip-path="url(#p1b7dcd335f)" style="fill: #ffffff; fill-opacity: 0.133"/>
   </g>
   <g id="patch_45">
    <path d="M 663 672.375 
L 681.75 672.375 
L 681.75 672.375 
L 663 672.375 
z
" clip-path="url(#p1b7dcd335f)" style="fill: #ffffff; fill-opacity: 0.133"/>
   </g>
   <g id="matplotlib.axis_9">
    <g id="ytick_34">
     <g id="line2d_74">
      <g>
       <use href="#m85a99a6e5a" x="783.375" y="672.3750" style="fill: #ffffff; stroke: #ffffff; stroke-width: 0.8"/>
      </g>
     </g>
     <g id="text_34">
      <text style="font-size: 10px; font-family: 'DejaVu Sans', sans-serif; text-anchor: start; fill: #ffffff" x="790.375" y="676.174219" transform="rotate(-0 790.375 676.174219)">0.0</text>
     </g>
    </g>
    <g id="ytick_35">
     <g id="line2d_75">
      <g>
       <use href="#m85a99a6e5a" x="783.375" y="634.8750" style="fill: #ffffff; stroke: #ffffff; stroke-width: 0.8"/>
      </g>
     </g>
     <g id="text_35">
      <text style="font-size: 10px; font-family: 'DejaVu Sans', sans-serif; text-anchor: start; fill: #ffffff" x="790.375" y="638.317076" transform="rotate(-0 790.375 638.317076)">0.2</text>
     </g>
    </g>
    <g id="ytick_36">
     <g id="line2d_76">
      <g>
       <use href="#m85a99a6e5a" x="783.375" y="596.6250" style="fill: #ffffff; stroke: #ffffff; stroke-width: 0.8"/>
      </g>
     </g>
     <g id="text_36">
      <text style="font-size: 10px; font-family: 'DejaVu Sans', sans-serif; text-anchor: start; fill: #ffffff" x="790.375" y="600.459933" transform="rotate(-0 790.375 600.459933)">0.4</text>
     </g>
    </g>
    <g id="ytick_37">
     <g id="line2d_77">
      <g>
       <use href="#m85a99a6e5a" x="783.375" y="558.3750" style="fill: #ffffff; stroke: #ffffff; stroke-width: 0.8"/>
      </g>
     </g>
     <g id="text_37">
      <text style="font-size: 10px; font-family: 'DejaVu Sans', sans-serif; text-anchor: start; fill: #ffffff" x="790.375" y="562.60279" transform="rotate(-0 790.375 562.60279)">0.6</text>
     </g>
    </g>
    <g id="ytick_38">
     <g id="line2d_78">
      <g>
       <use href="#m85a99a6e5a" x="783.375" y="520.8750" style="fill: #ffffff; stroke: #ffffff; stroke-width: 0.8"/>
      </g>
     </g>
     <g id="text_38">
      <text style="font-size: 10px; font-family: 'DejaVu Sans', sans-serif; text-anchor: start; fill: #ffffff" x="790.375" y="524.745647" transform="rotate(-0 790.375 524.745647)">0.8</text>
     </g>
    </g>
    <g id="ytick_39">
     <g id="line2d_79">
      <g>
       <use href="#m85a99a6e5a" x="783.375" y="482.6250" style="fill: #ffffff; stroke: #ffffff; stroke-width: 0.8"/>
      </g>
     </g>
     <g id="text_39">
      <text style="font-size: 10px; font-family: 'DejaVu Sans', sans-serif; text-anchor: start; fill: #ffffff" x="790.375" y="486.888504" transform="rotate(-0 790.375 486.888504)">1.0</text>
     </g>
    </g>
    <g id="yl_sun" transform="translate(-0.705 0.000)">
     <text style="font-size: 14px; font-family: 'DejaVu Sans', sans-serif; text-anchor: middle; fill: #ffffff" x="820.915938" y="573" transform="rotate(-90 820.915938 573)">SUN UP / AFFECTS SESSION</text>
    </g>
   </g>
   <g id="patch_46">
    <path d="M 64.875 672.375 
L 64.875 473.625 
" style="fill: none; stroke: #ffffff; stroke-width: 0.8; stroke-linejoin: miter; stroke-linecap: square"/>
   </g>
   <g id="patch_47">
    <path d="M 783.375 672.375 
L 783.375 473.625 
" style="fill: none; stroke: #ffffff; stroke-width: 0.8; stroke-linejoin: miter; stroke-linecap: square"/>
   </g>
   <g id="patch_48">
    <path d="M 64.875 672.375 
L 663.375 672.375 
" style="fill: none; stroke: #ffffff; stroke-width: 0.8; stroke-linejoin: miter; stroke-linecap: square"/>
   </g>
   <g id="patch_49">
    <path d="M 64.875 473.625 
L 663.375 473.625 
" style="fill: none; stroke: #ffffff; stroke-width: 0.8; stroke-linejoin: miter; stroke-linecap: square"/>
   </g>
   <g id="legend_3">
    <g id="lframe3">
     <path d="M 77.040 479.625 L 179.460 479.625 Q 181.125 479.625 181.125 481.290 L 181.125 503.460 Q 181.125 505.125 179.460 505.125 L 77.040 505.125 Q 75.375 505.125 75.375 503.460 L 75.375 481.290 Q 75.375 479.625 77.040 479.625 z" style="opacity: 0.8; stroke: #cccccc; stroke-linejoin: miter"/>
    </g>
    <g id="lhand3_0" transform="translate(0 0.000)">
     <path d="M 78.000 483.000 L 94.500 483.000 L 94.500 488.250 L 78.000 488.250 z" style="fill: #ffffc8"/>
    </g>
    <g id="ltext3_0" transform="translate(0 -1.425)">
     <text style="font-size: 8.33px; font-family: 'DejaVu Sans', sans-serif; text-anchor: start; fill: #ffffff" x="101.681" y="489.438998" transform="rotate(-0 101.681 489.438998)">IS SUN UP</text>
    </g>
    <g id="lhand3_1" transform="translate(0 0.000)">
     <path d="M 78.000 494.400 L 94.500 494.400 L 94.500 500.175 L 78.000 500.175 z" style="fill: #ffffff; fill-opacity: 0.133"/>
    </g>
    <g id="ltext3_1" transform="translate(0 -1.425)">
     <text style="font-size: 8.33px; font-family: 'DejaVu Sans', sans-serif; text-anchor: start; fill: #ffffff" x="101.681" y="501.665877" transform="rotate(-0 101.681 501.665877)">AFFECTS SESSION</text>
    </g>
   </g>
  </g>
  <g id="axes_8">
   <g id="line2d_80">
    <path d="M 139.5 672.375 
L 139.5 473.625 
" clip-path="url(#p1b7dcd335f)" style="fill: none; stroke: #ffffff; stroke-opacity: 0.089; stroke-width: 1.125; stroke-linecap: square"/>
   </g>
   <g id="line2d_81">
    <path d="M 214.5 672.375 
L 214.5 473.625 
" clip-path="url(#p1b7dcd335f)" style="fill: none; stroke: #ffffff; stroke-opacity: 0.089; stroke-width: 1.125; stroke-linecap: square"/>
   </g>
   <g id="line2d_82">
    <path d="M 288.75 672.375 
L 288.75 473.625 
" clip-path="url(#p1b7dcd335f)" style="fill: none; stroke: #ffffff; stroke-opacity: 0.089; stroke-width: 1.125; stroke-linecap: square"/>
   </g>
   <g id="line2d_83">
    <path d="M 363.75 672.375 
L 363.75 473.625 
" clip-path="url(#p1b7dcd335f)" style="fill: none; stroke: #ffffff; stroke-opacity: 0.089; stroke-width: 1.125; stroke-linecap: square"/>
   </g>
   <g id="line2d_84">
    <path d="M 438.75 672.375 
L 438.75 473.625 
" clip-path="url(#p1b7dcd335f)" style="fill: none; stroke: #ffffff; stroke-opacity: 0.089; stroke-width: 1.125; stroke-linecap: square"/>
   </g>
   <g id="line2d_85">
    <path d="M 513.75 672.375 
L 513.75 473.625 
" clip-path="url(#p1b7dcd335f)" style="fill: none; stroke: #ffffff; stroke-opacity: 0.089; stroke-width: 1.125; stroke-linecap: square"/>
   </g>
   <g id="line2d_86">
    <path d="M 588 672.375 
L 588 473.625 
" clip-path="url(#p1b7dcd335f)" style="fill: none; stroke: #ffffff; stroke-opacity: 0.089; stroke-width: 1.125; stroke-linecap: square"/>
   </g>
   <g id="matplotlib.axis_10">
    <g id="xtick_19">
     <g id="line2d_87">
      <g>
       <use href="#m2a5df0ebce" x="64.875" y="672.375" style="fill: #ffffff; stroke: #ffffff; stroke-width: 0.8"/>
      </g>
     </g>
     <g id="text_40">
      <text style="font-size: 10px; font-family: 'DejaVu Sans', sans-serif; fill: #ffffff" transform="translate(60.060001 709.631988) rotate(-60)">06:00</text>
     </g>
    </g>
    <g id="xtick_20">
     <g id="line2d_88">
      <g>
       <use href="#m2a5df0ebce" x="139.8750" y="672.375" style="fill: #ffffff; stroke: #ffffff; stroke-width: 0.8"/>
      </g>
     </g>
     <g id="text_41">
      <text style="font-size: 10px; font-family: 'DejaVu Sans', sans-serif; fill: #ffffff" transform="translate(134.572501 709.631988) rotate(-60)">07:00</text>
     </g>
    </g>
    <g id="xtick_21">
     <g id="line2d_89">
      <g>
       <use href="#m2a5df0ebce" x="214.8750" y="672.375" style="fill: #ffffff; stroke: #ffffff; stroke-width: 0.8"/>
      </g>
     </g>
     <g id="text_42">
      <text style="font-size: 10px; font-family: 'DejaVu Sans', sans-serif; fill: #ffffff" transform="translate(209.385001 709.631988) rotate(-60)">08:00</text>
     </g>
    </g>
    <g id="xtick_22">
     <g id="line2d_90">
      <g>
       <use href="#m2a5df0ebce" x="289.1250" y="672.375" style="fill: #ffffff; stroke: #ffffff; stroke-width: 0.8"/>
      </g>
     </g>
     <g id="text_43">
      <text style="font-size: 10px; font-family: 'DejaVu Sans', sans-serif; fill: #ffffff" transform="translate(284.197501 709.631988) rotate(-60)">09:00</text>
     </g>
    </g>
    <g id="xtick_23">
     <g id="line2d_91">
      <g>
       <use href="#m2a5df0ebce" x="364.1250" y="672.375" style="fill: #ffffff; stroke: #ffffff; stroke-width: 0.8"/>
      </g>
     </g>
     <g id="text_44">
      <text style="font-size: 10px; font-family: 'DejaVu Sans', sans-serif; fill: #ffffff" transform="translate(359.010001 709.631988) rotate(-60)">10:00</text>
     </g>
    </g>
    <g id="xtick_24">
     <g id="line2d_92">
      <g>
       <use href="#m2a5df0ebce" x="439.1250" y="672.375" style="fill: #ffffff; stroke: #ffffff; stroke-width: 0.8"/>
      </g>
     </g>
     <g id="text_45">
      <text style="font-size: 10px; font-family: 'DejaVu Sans', sans-serif; fill: #ffffff" transform="translate(433.822501 709.631988) rotate(-60)">11:00</text>
     </g>
    </g>
    <g id="xtick_25">
     <g id="line2d_93">
      <g>
       <use href="#m2a5df0ebce" x="514.1250" y="672.375" style="fill: #ffffff; stroke: #ffffff; stroke-width: 0.8"/>
      </g>
     </g>
     <g id="text_46">
      <text style="font-size: 10px; font-family: 'DejaVu Sans', sans-serif; fill: #ffffff" transform="translate(508.635001 709.631988) rotate(-60)">12:00</text>
     </g>
    </g>
    <g id="xtick_26">
     <g id="line2d_94">
      <g>
       <use href="#m2a5df0ebce" x="588.3750" y="672.375" style="fill: #ffffff; stroke: #ffffff; stroke-width: 0.8"/>
      </g>
     </g>
     <g id="text_47">
      <text style="font-size: 10px; font-family: 'DejaVu Sans', sans-serif; fill: #ffffff" transform="translate(583.447501 709.631988) rotate(-60)">13:00</text>
     </g>
    </g>
    <g id="xtick_27">
     <g id="line2d_95">
      <g>
       <use href="#m2a5df0ebce" x="663.3750" y="672.375" style="fill: #ffffff; stroke: #ffffff; stroke-width: 0.8"/>
      </g>
     </g>
     <g id="text_48">
      <text style="font-size: 10px; font-family: 'DejaVu Sans', sans-serif; fill: #ffffff" transform="translate(658.260001 709.631988) rotate(-60)">14:00</text>
     </g>
    </g>
   </g>
   <g id="matplotlib.axis_11">
    <g id="ytick_40">
     <g id="line2d_96">
      <g>
       <use href="#md2fccc285f" x="64.875" y="672.3750" style="fill: #ffffff; stroke: #ffffff; stroke-width: 0.8"/>
      </g>
     </g>
     <g id="text_49">
      <text style="font-size: 10px; font-family: 'DejaVu Sans', sans-serif; text-anchor: end; fill: #ffffff" x="57.875" y="675.874219" transform="rotate(-0 57.875 675.874219)">0</text>
     </g>
    </g>
    <g id="ytick_41">
     <g id="line2d_97">
      <g>
       <use href="#md2fccc285f" x="64.875" y="644.6250" style="fill: #ffffff; stroke: #ffffff; stroke-width: 0.8"/>
      </g>
     </g>
     <g id="text_50">
      <text style="font-size: 10px; font-family: 'DejaVu Sans', sans-serif; text-anchor: end; fill: #ffffff" x="57.875" y="648.270314" transform="rotate(-0 57.875 648.270314)">50</text>
     </g>
    </g>
    <g id="ytick_42">
     <g id="line2d_98">
      <g>
       <use href="#md2fccc285f" x="64.875" y="616.8750" style="fill: #ffffff; stroke: #ffffff; stroke-width: 0.8"/>
      </g>
     </g>
     <g id="text_51">
      <text style="font-size: 10px; font-family: 'DejaVu Sans', sans-serif; text-anchor: end; fill: #ffffff" x="57.875" y="620.666408" transform="rotate(-0 57.875 620.666408)">100</text>
     </g>
    </g>
    <g id="ytick_43">
     <g id="line2d_99">
      <g>
       <use href="#md2fccc285f" x="64.875" y="589.1250" style="fill: #ffffff; stroke: #ffffff; stroke-width: 0.8"/>
      </g>
     </g>
     <g id="text_52">
      <text style="font-size: 10px; font-family: 'DejaVu Sans', sans-serif; text-anchor: end; fill: #ffffff" x="57.875" y="593.062502" transform="rotate(-0 57.875 593.062502)">150</text>
     </g>
    </g>
    <g id="ytick_44">
     <g id="line2d_100">
      <g>
       <use href="#md2fccc285f" x="64.875" y="561.3750" style="fill: #ffffff; stroke: #ffffff; stroke-width: 0.8"/>
      </g>
     </g>
     <g id="text_53">
      <text style="font-size: 10px; font-family: 'DejaVu Sans', sans-serif; text-anchor: end; fill: #ffffff" x="57.875" y="565.458596" transform="rotate(-0 57.875 565.458596)">200</text>
     </g>
    </g>
    <g id="ytick_45">
     <g id="line2d_101">
      <g>
       <use href="#md2fccc285f" x="64.875" y="534.3750" style="fill: #ffffff; stroke: #ffffff; stroke-width: 0.8"/>
      </g>
     </g>
     <g id="text_54">
      <text style="font-size: 10px; font-family: 'DejaVu Sans', sans-serif; text-anchor: end; fill: #ffffff" x="57.875" y="537.85469" transform="rotate(-0 57.875 537.85469)">250</text>
     </g>
    </g>
    <g id="ytick_46">
     <g id="line2d_102">
      <g>
       <use href="#md2fccc285f" x="64.875" y="506.6250" style="fill: #ffffff; stroke: #ffffff; stroke-width: 0.8"/>
      </g>
     </g>
     <g id="text_55">
      <text style="font-size: 10px; font-family: 'DejaVu Sans', sans-serif; text-anchor: end; fill: #ffffff" x="57.875" y="510.250784" transform="rotate(-0 57.875 510.250784)">300</text>
     </g>
    </g>
    <g id="ytick_47">
     <g id="line2d_103">
      <g>
       <use href="#md2fccc285f" x="64.875" y="478.8750" style="fill: #ffffff; stroke: #ffffff; stroke-width: 0.8"/>
      </g>
     </g>
     <g id="text_56">
      <text style="font-size: 10px; font-family: 'DejaVu Sans', sans-serif; text-anchor: end; fill: #ffffff" x="57.875" y="482.646878" transform="rotate(-0 57.875 482.646878)">350</text>
     </g>
    </g>
    <g id="yl_wdir" transform="translate(-1.500 0.300)">
     <text style="font-size: 14px; font-family: 'DejaVu Sans', sans-serif; text-anchor: middle; fill: #4daf4a" x="31.875937" y="573" transform="rotate(-90 31.875937 573)">WIND DIR (deg)</text>
    </g>
   </g>
   <g id="line2d_104">
    <path d="M 64.575 501.78264 
L 139.3875 525.908454 
L 214.2 507.027382 
L 289.0125 478.429736 
L 363.825 651.009356 
L 438.6375 489.581714 
L 513.45 510.229436 
L 588.2625 478.043281 
L 663.075 474.730812 
" clip-path="url(#p1b7dcd335f)" style="fill: none; stroke: #4daf4a; stroke-width: 2; stroke-linecap: square"/>
   </g>
   <g id="patch_50">
    <path d="M 64.875 672.375 
L 64.875 473.625 
" style="fill: none; stroke: #ffffff; stroke-width: 0.8; stroke-linejoin: miter; stroke-linecap: square"/>
   </g>
   <g id="patch_51">
    <path d="M 663.375 672.375 
L 663.375 473.625 
" style="fill: none; stroke: #ffffff; stroke-width: 0.8; stroke-linejoin: miter; stroke-linecap: square"/>
   </g>
   <g id="patch_52">
    <path d="M 64.875 672.375 
L 663.375 672.375 
" style="fill: none; stroke: #ffffff; stroke-width: 0.8; stroke-linejoin: miter; stroke-linecap: square"/>
   </g>
   <g id="patch_53">
    <path d="M 64.875 473.625 
L 663.375 473.625 
" style="fill: none; stroke: #ffffff; stroke-width: 0.8; stroke-linejoin: miter; stroke-linecap: square"/>
   </g>
  </g>
  <g id="axes_9">
   <g id="matplotlib.axis_12">
    <g id="ytick_48">
     <g id="line2d_105">
      <g>
       <use href="#m85a99a6e5a" x="663.375" y="635.6250" style="fill: #ffffff; stroke: #ffffff; stroke-width: 0.8"/>
      </g>
     </g>
     <g id="text_57">
      <text style="font-size: 10px; font-family: 'DejaVu Sans', sans-serif; text-anchor: start; fill: #ffffff" x="670.375" y="639.348507" transform="rotate(-0 670.375 639.348507)">5.9</text>
     </g>
    </g>
    <g id="ytick_49">
     <g id="line2d_106">
      <g>
       <use href="#m85a99a6e5a" x="663.375" y="595.1250" style="fill: #ffffff; stroke: #ffffff; stroke-width: 0.8"/>
      </g>
     </g>
     <g id="text_58">
      <text style="font-size: 10px; font-family: 'DejaVu Sans', sans-serif; text-anchor: start; fill: #ffffff" x="670.375" y="599.035741" transform="rotate(-0 670.375 599.035741)">6.0</text>
     </g>
    </g>
    <g id="ytick_50">
     <g id="line2d_107">
      <g>
       <use href="#m85a99a6e5a" x="663.375" y="554.6250" style="fill: #ffffff; stroke: #ffffff; stroke-width: 0.8"/>
      </g>
     </g>
     <g id="text_59">
      <text style="font-size: 10px; font-family: 'DejaVu Sans', sans-serif; text-anchor: start; fill: #ffffff" x="670.375" y="558.722974" transform="rotate(-0 670.375 558.722974)">6.1</text>
     </g>
    </g>
    <g id="ytick_51">
     <g id="line2d_108">
      <g>
       <use href="#m85a99a6e5a" x="663.375" y="514.8750" style="fill: #ffffff; stroke: #ffffff; stroke-width: 0.8"/>
      </g>
     </g>
     <g id="text_60">
      <text style="font-size: 10px; font-family: 'DejaVu Sans', sans-serif; text-anchor: start; fill: #ffffff" x="670.375" y="518.410208" transform="rotate(-0 670.375 518.410208)">6.2</text>
     </g>
    </g>
    <g id="ytick_52">
     <g id="line2d_109">
      <g>
       <use href="#m85a99a6e5a" x="663.375" y="474.3750" style="fill: #ffffff; stroke: #ffffff; stroke-width: 0.8"/>
      </g>
     </g>
     <g id="text_61">
      <text style="font-size: 10px; font-family: 'DejaVu Sans', sans-serif; text-anchor: start; fill: #ffffff" x="670.375" y="478.097442" transform="rotate(-0 670.375 478.097442)">6.3</text>
     </g>
    </g>
    <g id="yl_wspd" transform="translate(0.000 0.600)">
     <text style="font-size: 14px; font-family: 'DejaVu Sans', sans-serif; text-anchor: middle; fill: #e41a1c" x="700.915938" y="573" transform="rotate(-90 700.915938 573)">WIND SPEED (m/s)</text>
    </g>
   </g>
   <g id="line2d_110">
    <path d="M 64.575 607.048162 
L 139.3875 614.58665 
L 214.2 634.863971 
L 289.0125 566.856334 
L 363.825 663.082907 
L 438.6375 658.930692 
L 513.45 574.51576 
L 588.2625 489.213947 
L 663.075 481.877023 
" clip-path="url(#p1b7dcd335f)" style="fill: none; stroke: #e41a1c; stroke-width: 2; stroke-linecap: square"/>
   </g>
   <g id="patch_54">
    <path d="M 64.875 672.375 
L 64.875 473.625 
" style="fill: none; stroke: #ffffff; stroke-width: 0.8; stroke-linejoin: miter; stroke-linecap: square"/>
   </g>
   <g id="patch_55">
    <path d="M 663.375 672.375 
L 663.375 473.625 
" style="fill: none; stroke: #ffffff; stroke-width: 0.8; stroke-linejoin: miter; stroke-linecap: square"/>
   </g>
   <g id="patch_56">
    <path d="M 64.875 672.375 
L 663.375 672.375 
" style="fill: none; stroke: #ffffff; stroke-width: 0.8; stroke-linejoin: miter; stroke-linecap: square"/>
   </g>
   <g id="patch_57">
    <path d="M 64.875 473.625 
L 663.375 473.625 
" style="fill: none; stroke: #ffffff; stroke-width: 0.8; stroke-linejoin: miter; stroke-linecap: square"/>
   </g>
  </g>
  <g id="text_62">
   <text style="font-size: 16px; font-family: 'DejaVu Sans', sans-serif; text-anchor: middle; fill: #ffffff" x="432" y="26.5575" transform="rotate(-0 432 26.5575)">Mini Stock Rookie Series by Thrustmaster - 2026 Season 1 2026S1 Week8 @ Lanier National Speedway</text>
  </g>
 </g>
 <defs>
  <clipPath id="p0e8cb03d9c">
   <rect x="64.875" y="40.125" width="598.5" height="199.5"/>
  </clipPath>
  <clipPath id="p9b75be4fc3">
   <rect x="64.875" y="40.125" width="598.5" height="199.5"/>
  </clipPath>
  <clipPath id="p6744f68120">
   <rect x="64.875" y="256.875" width="598.5" height="199.5"/>
  </clipPath>
  <clipPath id="p3d018bc592">
   <rect x="64.875" y="256.875" width="598.5" height="199.5"/>
  </clipPath>
  <clipPath id="p1b7dcd335f">
   <rect x="64.875" y="473.625" width="598.5" height="198.75"/>
  </clipPath>
 </defs>
</svg>

</body></html>
